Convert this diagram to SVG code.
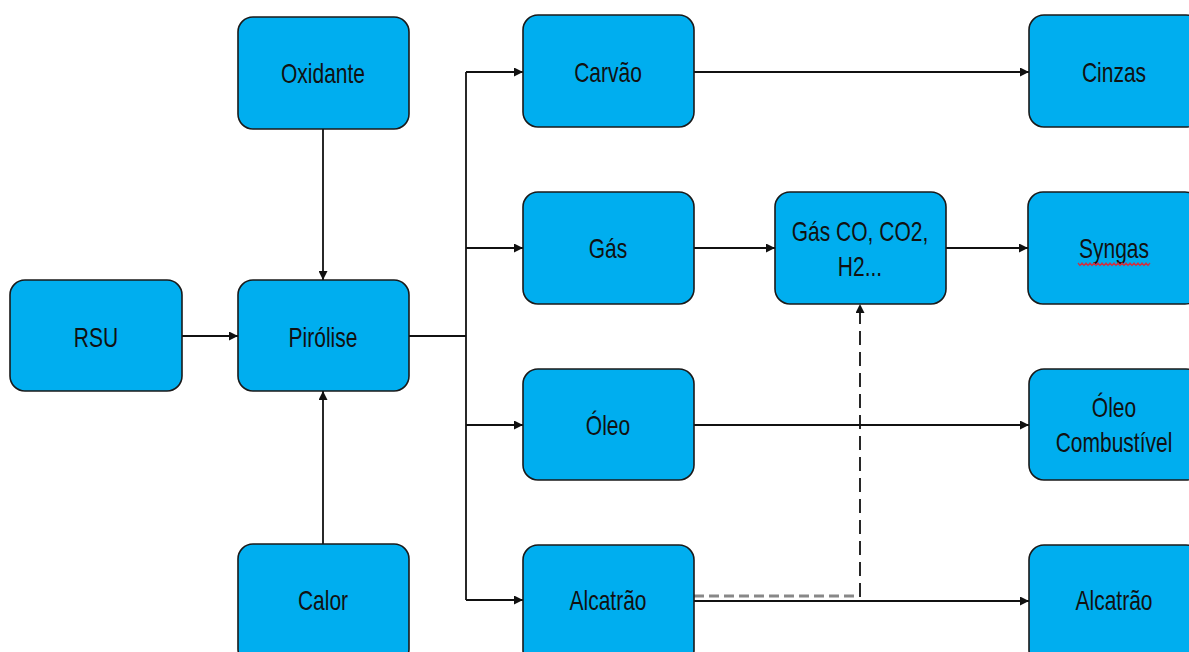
<svg xmlns="http://www.w3.org/2000/svg" width="1189" height="652" viewBox="0 0 1189 652">
<style>
.box{fill:#00AEEF;stroke:#1a1a1a;stroke-width:1.6}
.t{font-family:"Liberation Sans",Arial,sans-serif;font-size:28px;fill:#111;text-anchor:middle}
.c{fill:none;stroke:#111;stroke-width:1.8}
</style>
<defs>
<marker id="ah" viewBox="0 0 10 10" refX="10" refY="5" markerWidth="10" markerHeight="9" markerUnits="userSpaceOnUse" orient="auto">
<path d="M0,0 L10,5 L0,10 Z" fill="#111"/>
</marker>
</defs>
<g id="connectors">
<path class="c" d="M182,336 H238" marker-end="url(#ah)"/>
<path class="c" d="M323,129 V280" marker-end="url(#ah)"/>
<path class="c" d="M323,544 V391" marker-end="url(#ah)"/>
<path class="c" d="M409,336 H466"/>
<path class="c" d="M466,72 V600"/>
<path class="c" d="M466,72 H523" marker-end="url(#ah)"/>
<path class="c" d="M466,248 H523" marker-end="url(#ah)"/>
<path class="c" d="M466,425 H523" marker-end="url(#ah)"/>
<path class="c" d="M466,600 H523" marker-end="url(#ah)"/>
<path class="c" d="M694,72 H1029" marker-end="url(#ah)"/>
<path class="c" d="M694,248 H775" marker-end="url(#ah)"/>
<path class="c" d="M946,248 H1028" marker-end="url(#ah)"/>
<path class="c" d="M694,425 H1029" marker-end="url(#ah)"/>
<path class="c" d="M694,601 H1029" marker-end="url(#ah)"/>
<path d="M694,596 H858" fill="none" stroke="#888" stroke-width="3" stroke-dasharray="10,5"/>
<path d="M860,597 V304" fill="none" stroke="#111" stroke-width="1.8" stroke-dasharray="14,7" marker-end="url(#ah)"/>
</g>
<g id="n-rsu"><rect class="box" x="10" y="280" width="172" height="111" rx="15"/><text class="t" transform="translate(96,347) scale(0.75,1)">RSU</text></g>
<g id="n-oxidante"><rect class="box" x="238" y="17" width="171" height="112" rx="15"/><text class="t" transform="translate(323,83) scale(0.75,1)">Oxidante</text></g>
<g id="n-pirolise"><rect class="box" x="238" y="280" width="171" height="111" rx="15"/><text class="t" transform="translate(323,347) scale(0.75,1)">Pirólise</text></g>
<g id="n-calor"><rect class="box" x="238" y="544" width="171" height="120" rx="15"/><text class="t" transform="translate(323,610) scale(0.75,1)">Calor</text></g>
<g id="n-carvao"><rect class="box" x="523" y="15" width="171" height="112" rx="15"/><text class="t" transform="translate(608,82) scale(0.75,1)">Carvão</text></g>
<g id="n-gas"><rect class="box" x="523" y="192" width="171" height="112" rx="15"/><text class="t" transform="translate(608,258) scale(0.75,1)">Gás</text></g>
<g id="n-oleo"><rect class="box" x="523" y="369" width="171" height="111" rx="15"/><text class="t" transform="translate(608,435) scale(0.75,1)">Óleo</text></g>
<g id="n-alcatrao"><rect class="box" x="523" y="545" width="171" height="120" rx="15"/><text class="t" transform="translate(608,610) scale(0.75,1)">Alcatrão</text></g>
<g id="n-gasco"><rect class="box" x="775" y="192" width="171" height="112" rx="15"/><text class="t" transform="translate(860,241) scale(0.75,1)">Gás CO, CO2,</text><text class="t" transform="translate(860,276) scale(0.75,1)">H2...</text></g>
<g id="n-cinzas"><rect class="box" x="1029" y="15" width="172" height="112" rx="15"/><text class="t" transform="translate(1114,82) scale(0.75,1)">Cinzas</text></g>
<g id="n-syngas"><rect class="box" x="1028" y="192" width="172" height="112" rx="15"/><text class="t" transform="translate(1114,258) scale(0.75,1)">Syngas</text><path d="M1078,263 l2,2.5 l2,-2.5 l2,2.5 l2,-2.5 l2,2.5 l2,-2.5 l2,2.5 l2,-2.5 l2,2.5 l2,-2.5 l2,2.5 l2,-2.5 l2,2.5 l2,-2.5 l2,2.5 l2,-2.5 l2,2.5 l2,-2.5 l2,2.5 l2,-2.5 l2,2.5 l2,-2.5 l2,2.5 l2,-2.5 l2,2.5 l2,-2.5 l2,2.5 l2,-2.5 l2,2.5 l2,-2.5 l2,2.5 l2,-2.5 l2,2.5 l2,-2.5 l2,2.5 l2,-2.5" fill="none" stroke="#cc3344" stroke-width="1.3"/></g>
<g id="n-oleocomb"><rect class="box" x="1029" y="369" width="172" height="111" rx="15"/><text class="t" transform="translate(1114,417) scale(0.75,1)">Óleo</text><text class="t" transform="translate(1114,452) scale(0.75,1)">Combustível</text></g>
<g id="n-alcatrao2"><rect class="box" x="1029" y="545" width="172" height="120" rx="15"/><text class="t" transform="translate(1114,610) scale(0.75,1)">Alcatrão</text></g>
</svg>
